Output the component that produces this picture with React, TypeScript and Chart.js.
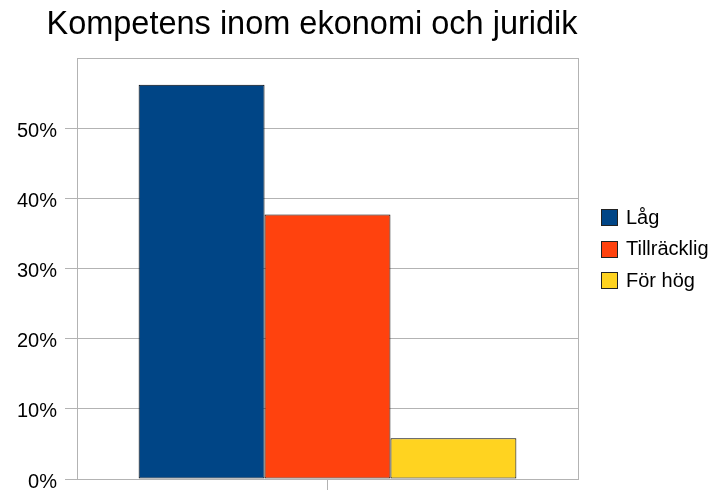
import React, { useEffect, useRef } from "react";
import { Chart, registerables } from "chart.js";

Chart.register(...registerables);

const title = "Kompetens inom ekonomi och juridik";
const categories = [""];
const seriesNames = ["Låg", "Tillräcklig", "För hög"];
const lagValues = [56.2];
const tillrackligValues = [37.7];
const forHogValues = [5.8];
const seriesColors = ["#004586", "#ff420e", "#ffd320"];
const yTicks = [0, 10, 20, 30, 40, 50];
const FONT = "'Liberation Sans', Arial, sans-serif";

const framePlugin = {
  id: "frameAndExtras",
  beforeDatasetsDraw(chart: any) {
    const { ctx, chartArea } = chart;
    ctx.save();
    ctx.strokeStyle = "#b3b3b3";
    ctx.lineWidth = 1;
    ctx.strokeRect(
      Math.round(chartArea.left) + 0.5,
      Math.round(chartArea.top) + 0.5,
      Math.round(chartArea.right - chartArea.left),
      Math.round(chartArea.bottom - chartArea.top)
    );
    ctx.restore();
  },
  afterDraw(chart: any) {
    const { ctx } = chart;
    ctx.save();
    // title
    ctx.fillStyle = "#000";
    ctx.font = `32.5px ${FONT}`;
    ctx.textAlign = "center";
    ctx.textBaseline = "alphabetic";
    ctx.fillText(title, 312, 34);
    // legend
    ctx.font = `20px ${FONT}`;
    ctx.textAlign = "left";
    ctx.textBaseline = "middle";
    const startY = 217;
    const step = 31.5;
    chart.data.datasets.forEach((ds: any, i: number) => {
      const cy = startY + i * step;
      ctx.fillStyle = ds.backgroundColor;
      ctx.fillRect(601, Math.round(cy - 8), 16, 16);
      ctx.strokeStyle = "#222";
      ctx.lineWidth = 1;
      ctx.strokeRect(601.5, Math.round(cy - 8) + 0.5, 16, 16);
      ctx.fillStyle = "#000";
      ctx.fillText(ds.label, 626, cy + 1);
    });
    ctx.restore();
  },
};

export default function App() {
  const ref = useRef<HTMLCanvasElement>(null);
  useEffect(() => {
    if (!ref.current) return;
    const chart = new Chart(ref.current, {
      type: "bar",
      data: {
        labels: categories,
        datasets: [
          { label: seriesNames[0], data: lagValues, backgroundColor: seriesColors[0] },
          { label: seriesNames[1], data: tillrackligValues, backgroundColor: seriesColors[1] },
          { label: seriesNames[2], data: forHogValues, backgroundColor: seriesColors[2] },
        ].map((d) => ({
          ...d,
          borderColor: "#000",
          borderWidth: 1,
          borderSkipped: false,
          categoryPercentage: 0.754,
          barPercentage: 1,
        })),
      },
      options: {
        animation: false,
        responsive: false,
        maintainAspectRatio: false,
        layout: { padding: { left: 0, top: 58, right: 137, bottom: 0 } },
        plugins: {
          legend: { display: false },
          title: { display: false },
          tooltip: { enabled: false },
        },
        scales: {
          x: {
            grid: {
              offset: false,
              drawOnChartArea: false,
              color: "#b3b3b3",
              tickLength: 11,
            },
            border: { display: true, color: "#b3b3b3" },
            ticks: { display: true, font: { size: 1 } },
            afterFit(scale: any) {
              scale.height = 14;
              scale.paddingLeft = 0;
              scale.paddingRight = 0;
            },
          },
          y: {
            min: 0,
            max: 60,
            afterBuildTicks(scale: any) {
              scale.ticks = yTicks.map((v) => ({ value: v }));
            },
            grid: { color: "#b3b3b3", tickLength: 12 },
            border: { display: true, color: "#b3b3b3" },
            ticks: {
              padding: 8,
              labelOffset: 3,
              color: "#000",
              font: { family: FONT, size: 20 },
              callback: (v: any) => `${v}%`,
            },
            afterFit(scale: any) {
              scale.width = 77;
              scale.paddingTop = 0;
              scale.paddingBottom = 0;
            },
          },
        },
      },
      plugins: [framePlugin],
    });
    return () => chart.destroy();
  }, []);
  return (
    <div style={{ position: "fixed", left: 0, top: 0, width: 715, height: 493, background: "#fff" }}>
      <canvas ref={ref} width={715} height={493} />
    </div>
  );
}
